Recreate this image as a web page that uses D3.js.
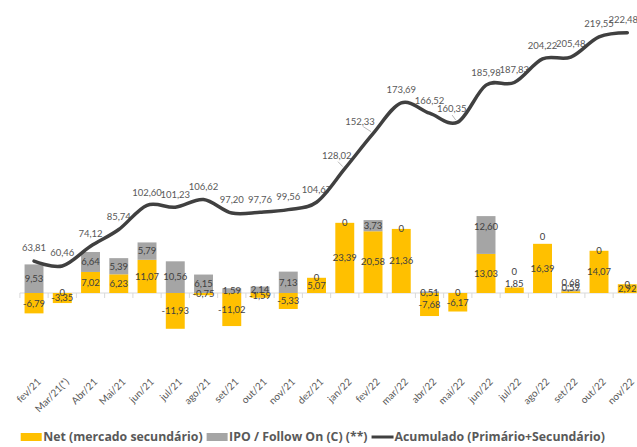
<!DOCTYPE html>
<html><head><meta charset="utf-8">
<script src="https://cdn.jsdelivr.net/npm/d3@7"></script>
<style>body{margin:0;background:#fff}svg{display:block;font-family:Lato,"Open Sans",sans-serif}</style>
</head><body><svg id="c" width="637" height="447"></svg>
<script>
const months = ["fev/21","Mar/21(*)","Abr/21","Mai/21","jun/21","jul/21","ago/21","set/21","out/21","nov/21","dez/21","jan/22","fev/22","mar/22","abr/22","mai/22","jun/22","jul/22","ago/22","set/22","out/22","nov/22"];
const netValues = [-6.79,-3.35,7.02,6.23,11.07,-11.93,-0.75,-11.02,-1.59,-5.33,5.07,23.39,20.58,21.36,-7.68,-6.17,13.03,1.85,16.39,0.59,14.07,2.92];
const ipoValues = [9.53,0,6.64,5.39,5.79,10.56,6.15,1.59,2.14,7.13,0,0,3.73,0,0.51,0,12.60,0,0,0.68,0,0];
const accumValues = [63.81,60.46,74.12,85.74,102.60,101.23,106.62,97.20,97.76,99.56,104.67,128.02,152.33,173.69,166.52,160.35,185.98,187.83,204.22,205.48,219.55,222.48];
const legendLabels = ["Net (mercado secundário)","IPO / Follow On (C) (**)","Acumulado (Primário+Secundário)"];

// label nudges (pixels) reproducing manual label placement
const netNudge = {17:-7, 19:-4};
const ipoNudge = {16:-8, 17:-16, 18:-7, 19:-8};
const lineNudge = {11:[-8,0], 12:[-13,1], 15:[-6,0], 21:[-4,0]};
const leaders = [11,12,15];

const W = 637, H = 447;
const plotTop = -7, plotBottom = 353;
const svg = d3.select("#c");
const fmt = v => v === 0 ? "0" : v.toFixed(2).replace(".", ",");

const x = d3.scaleBand().domain(months).range([19.9, 641.4]).paddingInner(0.33).paddingOuter(0.165);
const y = d3.scaleLinear().domain([-20, 100]).range([plotBottom, plotTop]);
const y2 = d3.scaleLinear().domain([0, 250]).range([plotBottom, plotTop]);
const cx = m => x(m) + x.bandwidth() / 2;
const step = x.step();

const YELLOW = "#FFC000", GRAY = "#A5A5A5", DARK = "#404040";

const rows = months.map((m, i) => {
  const net = netValues[i], ipo = ipoValues[i];
  const base = net > 0 ? net : 0;
  return {m, i, net, ipo, n0: Math.min(0, net), n1: Math.max(0, net), p0: base, p1: base + ipo};
});

// axis line + ticks
svg.append("line").attr("x1", 19.9).attr("x2", 641.4).attr("y1", y(0)).attr("y2", y(0))
  .attr("stroke", "#d9d9d9").attr("stroke-width", 1);
svg.append("g").selectAll("line").data(d3.range(months.length + 1)).join("line")
  .attr("x1", d => 19.9 + d * step).attr("x2", d => 19.9 + d * step)
  .attr("y1", y(0)).attr("y2", y(0) + 5).attr("stroke", "#d9d9d9");

// bars
svg.append("g").selectAll("rect").data(rows).join("rect")
  .attr("x", d => x(d.m)).attr("width", x.bandwidth())
  .attr("y", d => y(d.n1)).attr("height", d => y(d.n0) - y(d.n1)).attr("fill", YELLOW);
svg.append("g").selectAll("rect").data(rows.filter(d => d.ipo > 0)).join("rect")
  .attr("x", d => x(d.m)).attr("width", x.bandwidth())
  .attr("y", d => y(d.p1)).attr("height", d => y(d.p0) - y(d.p1)).attr("fill", GRAY);

// bar labels
const lbl = svg.append("g").attr("font-size", 9.5).attr("fill", DARK).attr("text-anchor", "middle");
rows.forEach(d => {
  lbl.append("text").attr("x", cx(d.m)).attr("y", y((d.n0 + d.n1) / 2) + (netNudge[d.i] || 0))
    .attr("dy", "0.35em").text(fmt(d.net));
  lbl.append("text").attr("x", cx(d.m)).attr("y", y((d.p0 + d.p1) / 2) + (ipoNudge[d.i] || 0))
    .attr("dy", "0.35em").text(fmt(d.ipo));
});

// line labels
const ll = svg.append("g").attr("font-size", 9.5).attr("fill", "#595959").attr("text-anchor", "middle");
rows.forEach(d => {
  const nd = lineNudge[d.i] || [0, 0];
  ll.append("text").attr("x", cx(d.m) + nd[0]).attr("y", y2(accumValues[d.i]) - 13 + nd[1])
    .attr("dy", "0.35em").text(fmt(accumValues[d.i]));
});
leaders.forEach(i => {
  const px = cx(months[i]), py = y2(accumValues[i]);
  const nd = lineNudge[i];
  svg.append("line").attr("x1", px + nd[0] * 0.6 - 2).attr("y1", py - 7)
    .attr("x2", px - 2).attr("y2", py - 2).attr("stroke", "#a6a6a6").attr("stroke-width", 0.8);
});

// line
const line = d3.line().x((d, i) => cx(months[i])).y(d => y2(d)).curve(d3.curveCardinal.tension(0));
svg.append("path").datum(accumValues).attr("d", line).attr("fill", "none")
  .attr("stroke", DARK).attr("stroke-width", 3.5).attr("stroke-linejoin", "round").attr("stroke-linecap", "round");

// x labels
svg.append("g").selectAll("text").data(months).join("text")
  .attr("transform", d => `translate(${cx(d) + 5},${380}) rotate(-45)`)
  .attr("text-anchor", "end").attr("dy", "0.35em")
  .attr("font-size", 10).attr("fill", "#595959").text(d => d);

// legend
const lg = svg.append("g").attr("font-size", 12.3).attr("font-weight", "bold")
  .attr("font-family", "'Open Sans',Lato,sans-serif").attr("fill", "#595959");
let lx = 20.7;
const ly = 437;
legendLabels.forEach((t, k) => {
  if (k < 2) {
    lg.append("rect").attr("x", lx).attr("y", ly - 4).attr("width", 21).attr("height", 8).attr("fill", k === 0 ? YELLOW : GRAY);
  } else {
    lg.append("line").attr("x1", lx).attr("x2", lx + 22).attr("y1", ly).attr("y2", ly).attr("stroke", DARK).attr("stroke-width", 3);
  }
  lx += k === 2 ? 23 : 22.5;
  const tx = lg.append("text").attr("x", lx).attr("y", ly).attr("dy", "0.35em").text(t);
  lx += tx.node().getComputedTextLength() + 4;
});
</script></body></html>
